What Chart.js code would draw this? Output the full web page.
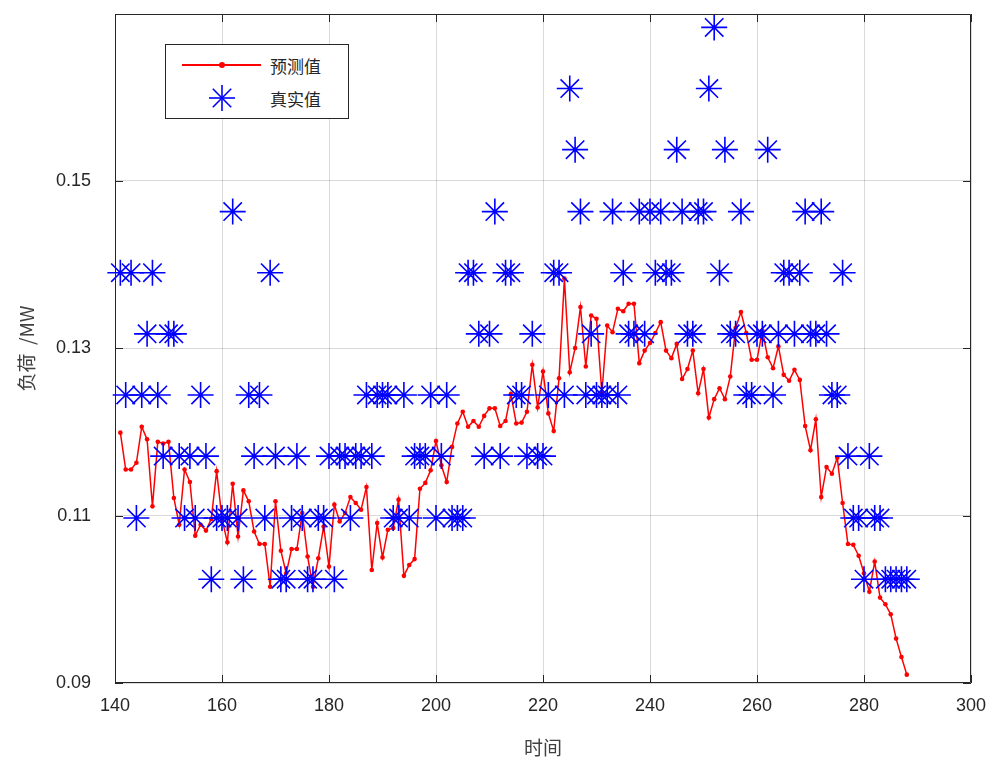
<!DOCTYPE html>
<html>
<head>
<meta charset="utf-8">
<title>负荷预测</title>
<script src="https://cdn.jsdelivr.net/npm/chart.js@4.4.1/dist/chart.umd.min.js"></script>
<style>
  html, body { margin: 0; padding: 0; background: #fff; }
  #wrap { position: relative; width: 987px; height: 760px; }
  #legend {
    position: absolute; left: 165px; top: 44px; width: 184px; height: 75px;
    box-sizing: border-box; border: 1px solid #262626; background: #fff;
    font-family: "Noto Sans CJK SC", sans-serif; font-size: 17px; color: #262626;
  }
  #legend .row { position: absolute; left: 0; width: 100%; height: 30px; }
  #legend .label { position: absolute; left: 104px; top: 50%; transform: translateY(-50%); line-height: 1; }
  #legend .line { position: absolute; left: 16px; top: 14px; width: 79px; height: 2px; background: #ff0000; }
  #legend .dot { position: absolute; left: 53px; top: 12px; width: 6px; height: 6px; border-radius: 50%; background: #ff0000; }
  #legend svg { position: absolute; left: 42px; top: 1px; }
</style>
</head>
<body>
<div id="wrap">
  <canvas id="chart" width="987" height="760"></canvas>
  <div id="legend">
    <div class="row" style="top:5px">
      <div class="line"></div><div class="dot"></div>
      <span class="label">预测值</span>
    </div>
    <div class="row" style="top:38px">
      <svg width="28" height="28" viewBox="-14 -14 28 28">
        <g stroke="#0000ff" stroke-width="1.6">
          <line x1="-13" y1="0" x2="13" y2="0"/><line x1="0" y1="-13" x2="0" y2="13"/>
          <line x1="-9.2" y1="-9.2" x2="9.2" y2="9.2"/><line x1="-9.2" y1="9.2" x2="9.2" y2="-9.2"/>
        </g>
      </svg>
      <span class="label">真实值</span>
    </div>
  </div>
</div>
<script>
// time index (hours)
const hours = [
  141,142,143,144,145,146,147,148,149,150,151,152,153,154,155,156,157,158,159,160,
  161,162,163,164,165,166,167,168,169,170,171,172,173,174,175,176,177,178,179,180,
  181,182,183,184,185,186,187,188,189,190,191,192,193,194,195,196,197,198,199,200,
  201,202,203,204,205,206,207,208,209,210,211,212,213,214,215,216,217,218,219,220,
  221,222,223,224,225,226,227,228,229,230,231,232,233,234,235,236,237,238,239,240,
  241,242,243,244,245,246,247,248,249,250,251,252,253,254,255,256,257,258,259,260,
  261,262,263,264,265,266,267,268,269,270,271,272,273,274,275,276,277,278,279,280,
  281,282,283,284,285,286,287,288
];

// 预测值
const predicted = [
  .1199,.1155,.1155,.1163,.1206,.1191,.1111,.1188,.1186,.1188,.1121,.1089,.1155,.1140,.1076,.1089,.1082,.1096,.1153,.1096,
  .1068,.1138,.1075,.1130,.1117,.1081,.1066,.1066,.1015,.1117,.1058,.1031,.1060,.1060,.1103,.1051,.1015,.1049,.1087,.1039,
  .1113,.1093,.1103,.1122,.1115,.1107,.1134,.1035,.1091,.1050,.1083,.1085,.1119,.1028,.1041,.1048,.1132,.1139,.1154,.1189,
  .1160,.1140,.1182,.1210,.1224,.1206,.1213,.1206,.1219,.1228,.1228,.1207,.1213,.1245,.1210,.1211,.1224,.1280,.1229,.1272,
  .1222,.1201,.1264,.1383,.1271,.1300,.1349,.1278,.1339,.1335,.1246,.1327,.1319,.1347,.1344,.1353,.1353,.1282,.1297,.1306,
  .1318,.1331,.1297,.1288,.1305,.1263,.1275,.1297,.1246,.1275,.1217,.1239,.1252,.1239,.1266,.1324,.1343,.1318,.1286,.1286,
  .1321,.1289,.1276,.1302,.1268,.1261,.1274,.1262,.1207,.1178,.1215,.1122,.1158,.1150,.1169,.1115,.1066,.1065,.1052,.1031,
  .1009,.1045,.1002,.0994,.0982,.0953,.0931,.0910
];

// 真实值
const actual = [
  .1390,.1244,.1390,.1097,.1244,.1317,.1390,.1244,.1171,.1317,.1317,.1171,.1097,.1171,.1097,.1244,.1171,.1024,.1097,.1097,
  .1097,.1463,.1097,.1024,.1244,.1171,.1244,.1097,.1390,.1171,.1024,.1024,.1097,.1171,.1097,.1024,.1024,.1097,.1097,.1171,
  .1024,.1171,.1171,.1097,.1171,.1171,.1244,.1171,.1244,.1244,.1244,.1097,.1097,.1244,.1097,.1171,.1171,.1171,.1244,.1097,
  .1171,.1244,.1097,.1097,.1097,.1390,.1390,.1317,.1171,.1317,.1463,.1171,.1390,.1390,.1244,.1244,.1171,.1317,.1171,.1171,
  .1244,.1390,.1390,.1244,.1610,.1537,.1463,.1244,.1317,.1244,.1244,.1244,.1463,.1244,.1390,.1317,.1317,.1463,.1317,.1463,
  .1390,.1463,.1390,.1390,.1537,.1463,.1317,.1317,.1463,.1463,.1610,.1683,.1390,.1537,.1317,.1317,.1463,.1244,.1244,.1317,
  .1317,.1537,.1244,.1317,.1390,.1390,.1317,.1390,.1463,.1317,.1317,.1463,.1317,.1244,.1244,.1390,.1171,.1097,.1097,.1024,
  .1171,.1097,.1097,.1024,.1024,.1024,.1024,.1024
];

const xTicks = [140, 160, 180, 200, 220, 240, 260, 280, 300];
const yTicks = [0.09, 0.11, 0.13, 0.15];

const axisColor = '#262626';
const numFont = { family: 'Liberation Sans, Arial, sans-serif', size: 18 };
const cjkFont = { family: 'Noto Sans CJK SC, sans-serif', size: 19 };

// box around the plot area + inward ticks like matlab
const boxPlugin = {
  id: 'box',
  afterDatasetsDraw(chart) {
    const { ctx, chartArea: a, scales } = chart;
    const len = 8;
    ctx.save();
    ctx.strokeStyle = axisColor;
    ctx.lineWidth = 1;
    ctx.beginPath();
    ctx.rect(a.left + 0.5, a.top + 0.5, a.right - a.left - 1, a.bottom - a.top - 1);
    xTicks.forEach(v => {
      const px = Math.round(scales.x.getPixelForValue(v)) + 0.5;
      ctx.moveTo(px, a.bottom); ctx.lineTo(px, a.bottom - len);
      ctx.moveTo(px, a.top); ctx.lineTo(px, a.top + len);
    });
    yTicks.forEach(v => {
      const py = Math.round(scales.y.getPixelForValue(v)) + 0.5;
      ctx.moveTo(a.left, py); ctx.lineTo(a.left + len, py);
      ctx.moveTo(a.right, py); ctx.lineTo(a.right - len, py);
    });
    ctx.stroke();
    ctx.restore();
  }
};

new Chart(document.getElementById('chart'), {
  type: 'scatter',
  data: {
    datasets: [
      {
        label: '预测值',
        data: hours.map((h, i) => ({ x: h, y: predicted[i] })),
        showLine: true,
        borderColor: '#ff0000',
        backgroundColor: '#ff0000',
        borderWidth: 1.5,
        pointRadius: 2.3,
        pointBorderWidth: 0,
        order: 2
      },
      {
        label: '真实值',
        data: hours.map((h, i) => ({ x: h, y: actual[i] })),
        showLine: false,
        pointStyle: 'star',
        pointRadius: 13,
        borderColor: '#0000ff',
        backgroundColor: '#0000ff',
        borderWidth: 1.6,
        clip: false,
        order: 1
      }
    ]
  },
  options: {
    responsive: false,
    animation: false,
    layout: { autoPadding: false, padding: { left: 0, top: 14, right: 16, bottom: 0 } },
    plugins: { legend: { display: false }, tooltip: { enabled: false } },
    scales: {
      x: {
        type: 'linear',
        min: 140, max: 300,
        afterBuildTicks: s => { s.ticks = xTicks.map(v => ({ value: v })); },
        afterFit: s => { s.height = 77; s.paddingLeft = 0; s.paddingRight = 0; },
        ticks: { color: axisColor, font: numFont, padding: 12, maxRotation: 0 },
        grid: { color: 'rgba(0,0,0,0.15)', drawTicks: false },
        border: { display: false },
        title: { display: true, text: '时间', color: '#404040', font: cjkFont, padding: { top: 0, bottom: 1 } }
      },
      y: {
        min: 0.09, max: 0.1699,
        afterBuildTicks: s => { s.ticks = yTicks.map(v => ({ value: v })); },
        afterFit: s => { s.width = 115; s.paddingTop = 0; s.paddingBottom = 0; },
        ticks: { color: axisColor, font: numFont, padding: 24, callback: v => v.toFixed(2) },
        grid: { color: 'rgba(0,0,0,0.15)', drawTicks: false },
        border: { display: false },
        title: { display: true, text: '负荷  /MW', color: '#404040', font: cjkFont, padding: { top: 15, bottom: 0 } }
      }
    }
  },
  plugins: [boxPlugin]
});
</script>
</body>
</html>
